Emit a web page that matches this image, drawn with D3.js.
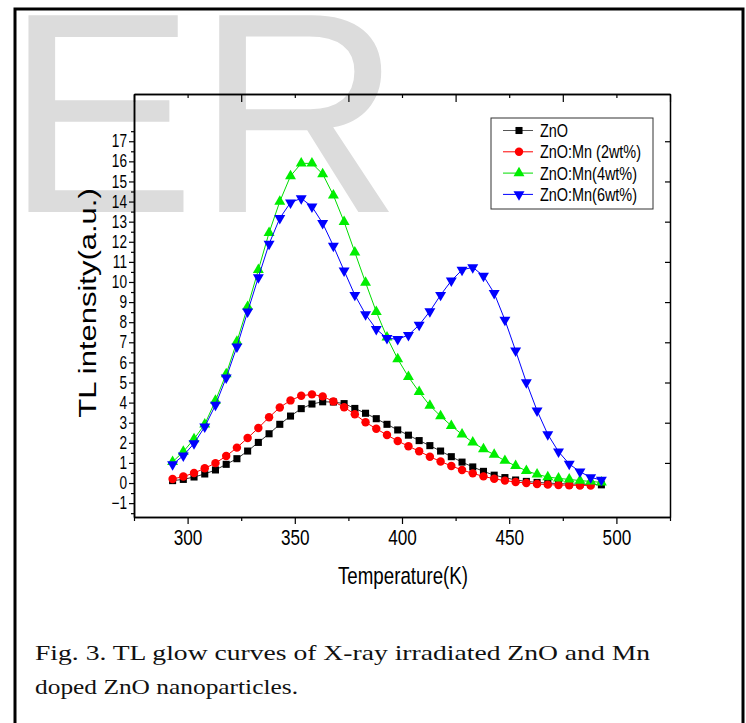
<!DOCTYPE html>
<html>
<head>
<meta charset="utf-8">
<script src="https://cdn.jsdelivr.net/npm/d3@7"></script>
<style>
  body { margin: 0; background: #fff; }
  svg { display: block; }
  text { font-family: "Liberation Sans", Arial, sans-serif; }
</style>
</head>
<body>
<svg width="746" height="723"></svg>
<script>
// temperatures (K) of the sampled points
const temps = [293, 298, 303, 308, 313, 318, 323, 328, 333, 338, 343, 348, 353, 358, 363,
  368, 373, 378, 383, 388, 393, 398, 403, 408, 413, 418, 423, 428, 433, 438, 443,
  448, 453, 458, 463, 468, 473, 478, 483, 488, 493];

const zno = [0.12, 0.18, 0.30, 0.45, 0.65, 0.93, 1.21, 1.59, 2.02, 2.45, 2.92, 3.33, 3.70, 3.93,
  4.04, 4.03, 3.95, 3.71, 3.47, 3.20, 2.92, 2.64, 2.38, 2.11, 1.86, 1.59, 1.31, 1.04, 0.80,
  0.58, 0.39, 0.27, 0.15, 0.08, 0.03, 0.0, -0.03, -0.05, -0.06, -0.07, -0.09];

const mn2 = [0.20, 0.32, 0.50, 0.73, 0.99, 1.34, 1.76, 2.24, 2.74, 3.27, 3.76, 4.11, 4.34, 4.41,
  4.31, 4.06, 3.77, 3.42, 3.02, 2.70, 2.39, 2.09, 1.83, 1.58, 1.31, 1.07, 0.85, 0.65, 0.48,
  0.33, 0.21, 0.12, 0.05, 0.0, -0.05, -0.08, -0.10, -0.11, -0.12, -0.12];

const mn4 = [1.05, 1.56, 2.19, 2.92, 4.10, 5.42, 7.03, 8.77, 10.60, 12.45, 14.0, 15.27, 15.9,
  15.9, 15.37, 14.31, 12.99, 11.48, 9.97, 8.52, 7.25, 6.17, 5.28, 4.53, 3.85, 3.33, 2.85,
  2.42, 2.02, 1.69, 1.41, 1.11, 0.85, 0.61, 0.43, 0.30, 0.23, 0.18, 0.12, 0.08, 0.03];

const mn6 = [0.93, 1.36, 1.97, 2.80, 3.88, 5.24, 6.78, 8.52, 10.23, 11.89, 13.17, 13.95, 14.16,
  13.75, 12.92, 11.79, 10.56, 9.35, 8.39, 7.65, 7.20, 7.15, 7.36, 7.86, 8.54, 9.35, 10.06,
  10.60, 10.73, 10.30, 9.44, 8.11, 6.58, 5.01, 3.60, 2.42, 1.56, 0.95, 0.56, 0.28, 0.15];

const seriesNames = ['ZnO', 'ZnO:Mn (2wt%)', 'ZnO:Mn(4wt%)', 'ZnO:Mn(6wt%)'];

const xMajorTicks = [300, 350, 400, 450, 500];
const xMinorTicks = [275, 325, 375, 425, 475, 525];
const yMajorTicks = [-1, 0, 1, 2, 3, 4, 5, 6, 7, 8, 9, 10, 11, 12, 13, 14, 15, 16, 17];
const yMinorTicks = [-1.5, -0.5, 0.5, 1.5, 2.5, 3.5, 4.5, 5.5, 6.5, 7.5, 8.5, 9.5, 10.5, 11.5,
  12.5, 13.5, 14.5, 15.5, 16.5, 17.5];
const yRightTicks = [1, 3, 5, 7, 9, 11, 13, 15, 17];

const svg = d3.select('svg');

// watermark
svg.append('text')
  .attr('x', 5)
  .attr('y', 212)
  .style('font-size', '286px')
  .style('fill', '#dcdcdc')
  .text('ER');

// page frame
svg.append('rect')
  .attr('x', 15)
  .attr('y', 9)
  .attr('width', 728)
  .attr('height', 740)
  .style('fill', 'none')
  .style('stroke', '#000')
  .style('stroke-width', 3);

const xScale = d3.scaleLinear().domain([275, 525]).range([134, 670]);
const yScale = d3.scaleLinear().domain([-1.69, 19.35]).range([517, 94]);

// the figure is squeezed sideways, so its sans text is narrowed
const squeeze = 0.78;

function styleAxis(g) {
  g.select('.domain').style('stroke', '#000').style('stroke-width', 1.5);
  g.selectAll('.tick line').style('stroke', '#000').style('stroke-width', 1.2);
  g.selectAll('.tick text').style('font-family', '"Liberation Sans", Arial, sans-serif').style('fill', '#000');
}

// left
svg.append('g')
  .attr('transform', 'translate(134,0)')
  .call(d3.axisLeft(yScale).tickValues(yMinorTicks).tickSize(3).tickSizeOuter(0).tickFormat(''))
  .call(styleAxis);
svg.append('g')
  .attr('transform', 'translate(134,0)')
  .call(d3.axisLeft(yScale).tickValues(yMajorTicks).tickSize(5).tickSizeOuter(0))
  .call(styleAxis)
  .selectAll('.tick text')
  .attr('x', 0)
  .attr('transform', 'translate(-7,0) scale(' + squeeze + ',1)')
  .style('font-size', '17.5px');

// right
svg.append('g')
  .attr('transform', 'translate(670,0)')
  .call(d3.axisRight(yScale).tickValues(yRightTicks).tickSize(-5).tickSizeOuter(0).tickFormat(''))
  .call(styleAxis);

// bottom
svg.append('g')
  .attr('transform', 'translate(0,517)')
  .call(d3.axisBottom(xScale).tickValues(xMinorTicks).tickSize(4).tickSizeOuter(0).tickFormat(''))
  .call(styleAxis);
svg.append('g')
  .attr('transform', 'translate(0,517)')
  .call(d3.axisBottom(xScale).tickValues(xMajorTicks).tickSize(7).tickSizeOuter(0).tickPadding(5))
  .call(styleAxis)
  .selectAll('.tick text')
  .attr('transform', 'scale(' + squeeze + ',1)')
  .attr('x', 0)
  .style('font-size', '22px');

// top
svg.append('g')
  .attr('transform', 'translate(0,94)')
  .call(d3.axisTop(xScale).tickValues(xMinorTicks).tickSize(-8).tickSizeOuter(0).tickFormat(''))
  .call(styleAxis);
svg.append('g')
  .attr('transform', 'translate(0,94)')
  .call(d3.axisTop(xScale).tickValues(xMajorTicks).tickSize(-4).tickSizeOuter(0).tickFormat(''))
  .call(styleAxis);

// axis titles
svg.append('text')
  .attr('transform', 'translate(403,584) scale(' + squeeze + ',1)')
  .attr('text-anchor', 'middle')
  .style('font-size', '24px')
  .text('Temperature(K)');

svg.append('text')
  .attr('transform', 'translate(96,303) rotate(-90) scale(1,' + squeeze + ')')
  .attr('text-anchor', 'middle')
  .style('font-size', '31px')
  .text('TL intensity(a.u.)');

// series
const series = [
  { name: seriesNames[0], values: zno, color: '#000000', line: '#333333', symbol: d3.symbolSquare, size: 50, rot: 0 },
  { name: seriesNames[1], values: mn2, color: '#ff0000', line: '#ff0000', symbol: d3.symbolCircle, size: 56, rot: 0 },
  { name: seriesNames[2], values: mn4, color: '#00ee00', line: '#00dd00', symbol: d3.symbolTriangle, size: 52, rot: 0 },
  { name: seriesNames[3], values: mn6, color: '#0000ff', line: '#0000ff', symbol: d3.symbolTriangle, size: 52, rot: 180 }
];

const line = d3.line()
  .x(d => xScale(d[0]))
  .y(d => yScale(d[1]));

series.forEach(s => {
  const pts = s.values.map((v, i) => [temps[i], v]);
  const g = svg.append('g');
  g.append('path')
    .attr('d', line(pts))
    .style('fill', 'none')
    .style('stroke', s.line)
    .style('stroke-width', 1);
  g.selectAll('path.pt')
    .data(pts)
    .enter()
    .append('path')
    .attr('class', 'pt')
    .attr('d', d3.symbol().type(s.symbol).size(s.size))
    .attr('transform', d => 'translate(' + xScale(d[0]) + ',' + yScale(d[1]) + ') rotate(' + s.rot + ')')
    .style('fill', s.color);
});

// legend
const legend = svg.append('g');
legend.append('rect')
  .attr('x', 491)
  .attr('y', 118)
  .attr('width', 162)
  .attr('height', 91)
  .style('fill', '#fff')
  .style('stroke', '#333')
  .style('stroke-width', 1);

series.forEach((s, i) => {
  const y = 130.5 + i * 21.3;
  legend.append('line')
    .attr('x1', 503).attr('x2', 533)
    .attr('y1', y).attr('y2', y)
    .style('stroke', i === 0 ? '#555' : s.line)
    .style('stroke-width', 1);
  legend.append('path')
    .attr('d', d3.symbol().type(s.symbol).size(s.size))
    .attr('transform', 'translate(519,' + y + ') rotate(' + s.rot + ')')
    .style('fill', s.color);
  legend.append('text')
    .attr('transform', 'translate(540,' + (y + 6.5) + ') scale(' + squeeze + ',1)')
    .style('font-size', '18.5px')
    .text(s.name);
});

// caption
const caption = svg.append('g')
  .style('font-size', '22px')
  .style('fill', '#111');
caption.append('text')
  .attr('x', 35)
  .attr('y', 660)
  .attr('textLength', 615)
  .attr('lengthAdjust', 'spacingAndGlyphs')
  .style('font-family', '"Liberation Serif", "Times New Roman", serif')
  .text('Fig. 3. TL glow curves of X-ray irradiated ZnO and Mn');
caption.append('text')
  .attr('x', 35)
  .attr('y', 694)
  .attr('textLength', 263)
  .attr('lengthAdjust', 'spacingAndGlyphs')
  .style('font-family', '"Liberation Serif", "Times New Roman", serif')
  .text('doped ZnO nanoparticles.');
</script>
</body>
</html>
